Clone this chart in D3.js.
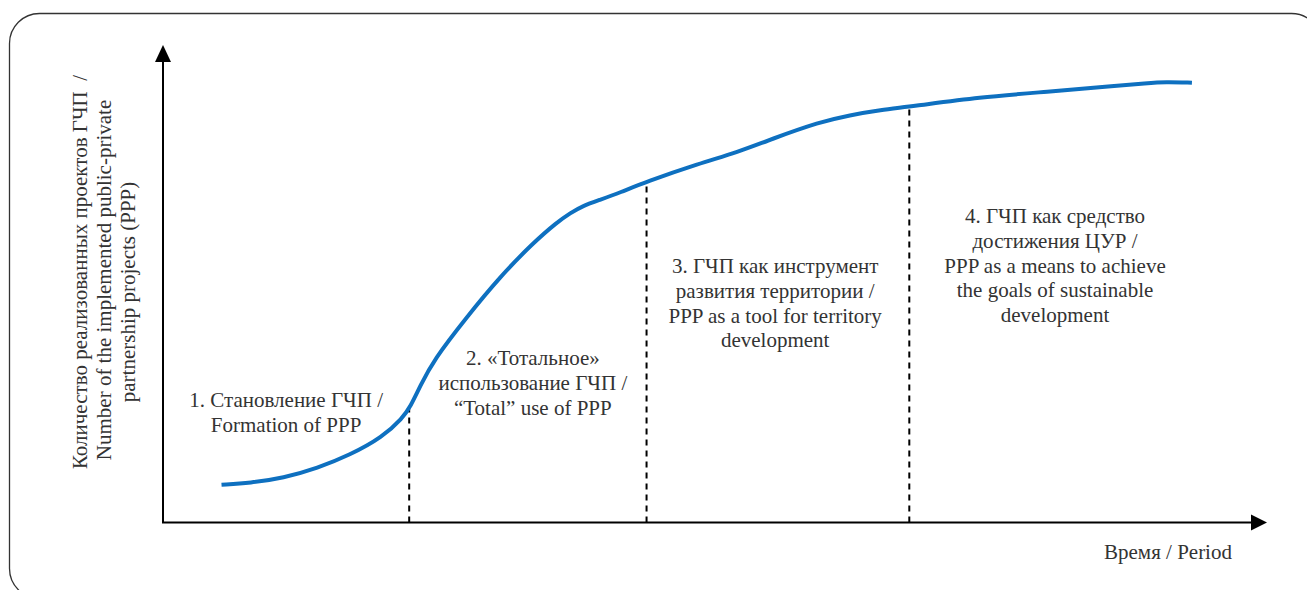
<!DOCTYPE html>
<html>
<head>
<meta charset="utf-8">
<script src="https://cdn.jsdelivr.net/npm/d3@7"></script>
<style>
    html, body { margin: 0; padding: 0; background: #fff; }
</style>
</head>
<body>
<svg id="chart" width="1307" height="590"></svg>
<script>
'use strict';

// Time (share of the period, %) and number of implemented PPP projects (relative, %)
const period = [5.3, 7.9, 10.9, 14.0, 16.9, 19.9, 21.7, 22.4, 23.3, 24.5, 27.5, 30.5, 33.5, 35.7,
    36.9, 38.0, 39.6, 41.4, 43.7, 48.6, 52.0, 55.0, 59.5, 62.2, 65.0, 67.7, 74.0, 80.1, 86.1, 89.1,
    90.8, 93.2];
const projects = [7.9, 8.3, 9.3, 11.4, 14.1, 17.9, 21.9, 24.2, 28.6, 34.0, 43.0, 51.4, 58.5, 62.9,
    64.8, 66.3, 67.6, 69.1, 71.3, 75.2, 77.5, 80.2, 83.9, 85.3, 86.4, 87.1, 89.1, 90.2, 91.4, 92.0,
    92.3, 92.1];

// Stage boundaries (time) and the curve level where each boundary meets it
const stageBreaks = [22.3, 43.8, 67.6];
const breakLevels = [24.0, 71.4, 87.1];

// Stage captions
const stageLabels = [
    ['1. Становление ГЧП /', 'Formation of PPP'],
    ['2. «Тотальное»', 'использование ГЧП /', '“Total” use of PPP'],
    ['3. ГЧП как инструмент', 'развития территории /', 'PPP as a tool for territory', 'development'],
    ['4. ГЧП как средство', 'достижения ЦУР /', 'PPP as a means to achieve', 'the goals of sustainable', 'development']
];

const yTitle = ['Количество реализованных проектов ГЧП  /',
    'Number of the implemented public-private',
    'partnership projects (PPP)'];
const xTitle = 'Время / Period';

(function () {

    const svg = d3.select('#chart');
    const font = "'Liberation Serif', 'DejaVu Serif', serif";
    const fontSize = 21;
    const ink = '#333';

    // Frame with rounded corners
    svg.append('rect')
        .attr('x', 9.5)
        .attr('y', 13.5)
        .attr('width', 1312)
        .attr('height', 585)
        .attr('rx', 30)
        .attr('fill', 'none')
        .attr('stroke', '#333')
        .attr('stroke-width', 1.3);

    // Scales (axes run to the arrow tips)
    const x0 = 163, x1 = 1267, y0 = 522.5, y1 = 45;
    const scX = d3.scaleLinear().domain([0, 100]).range([x0, x1]);
    const scY = d3.scaleLinear().domain([0, 100]).range([y0, y1]);

    // Dashed stage boundaries
    svg.selectAll('.boundary')
        .data(stageBreaks)
        .enter()
        .append('line')
            .attr('class', 'boundary')
            .attr('x1', (d) => scX(d))
            .attr('x2', (d) => scX(d))
            .attr('y1', y0)
            .attr('y2', (d, i) => scY(breakLevels[i]))
            .attr('stroke', '#000')
            .attr('stroke-width', 2)
            .attr('stroke-dasharray', '6,5');

    // Axes with arrowheads
    svg.append('line')
        .attr('x1', x0).attr('y1', y0)
        .attr('x2', x0).attr('y2', y1 + 14)
        .attr('stroke', '#000').attr('stroke-width', 2);
    svg.append('path')
        .attr('d', `M${x0},${y1} L${x0 - 8},${y1 + 17} L${x0 + 8},${y1 + 17} Z`)
        .attr('fill', '#000');

    svg.append('line')
        .attr('x1', x0 - 1).attr('y1', y0)
        .attr('x2', x1 - 14).attr('y2', y0)
        .attr('stroke', '#000').attr('stroke-width', 2);
    svg.append('path')
        .attr('d', `M${x1},${y0} L${x1 - 16},${y0 - 8} L${x1 - 16},${y0 + 8} Z`)
        .attr('fill', '#000');

    // Growth curve
    const line = d3.line()
        .x((d) => scX(d[0]))
        .y((d) => scY(d[1]))
        .curve(d3.curveBasis);

    svg.append('path')
        .datum(d3.zip(period, projects))
        .attr('d', line)
        .attr('fill', 'none')
        .attr('stroke', '#0e70c0')
        .attr('stroke-width', 4);

    // Stage captions: centre (time) and first baseline (pixels)
    const labelPos = [[11.15, 407], [33.5, 365], [55.45, 273], [80.8, 223]];
    const lineStep = 24.8;

    stageLabels.forEach((lines, i) => {
        const t = svg.append('text')
            .attr('text-anchor', 'middle')
            .attr('font-family', font)
            .attr('font-size', fontSize)
            .attr('fill', ink);
        lines.forEach((s, j) => {
            t.append('tspan')
                .attr('x', scX(labelPos[i][0]))
                .attr('y', labelPos[i][1] + j * lineStep)
                .text(s);
        });
    });

    // Y title (rotated); each line has its own centre
    const yCentres = [272, 280, 292];
    const yt = svg.append('text')
        .attr('transform', 'translate(0, 282) rotate(-90)')
        .attr('text-anchor', 'middle')
        .attr('font-family', font)
        .attr('font-size', fontSize)
        .attr('fill', ink)
        .style('white-space', 'pre');
    yTitle.forEach((s, j) => {
        yt.append('tspan')
            .attr('x', 282 - yCentres[j])
            .attr('y', 87 + j * 24)
            .text(s);
    });

    // X title
    svg.append('text')
        .attr('x', 1168)
        .attr('y', 559)
        .attr('text-anchor', 'middle')
        .attr('font-family', font)
        .attr('font-size', fontSize)
        .attr('fill', ink)
        .text(xTitle);

})();
</script>
</body>
</html>
